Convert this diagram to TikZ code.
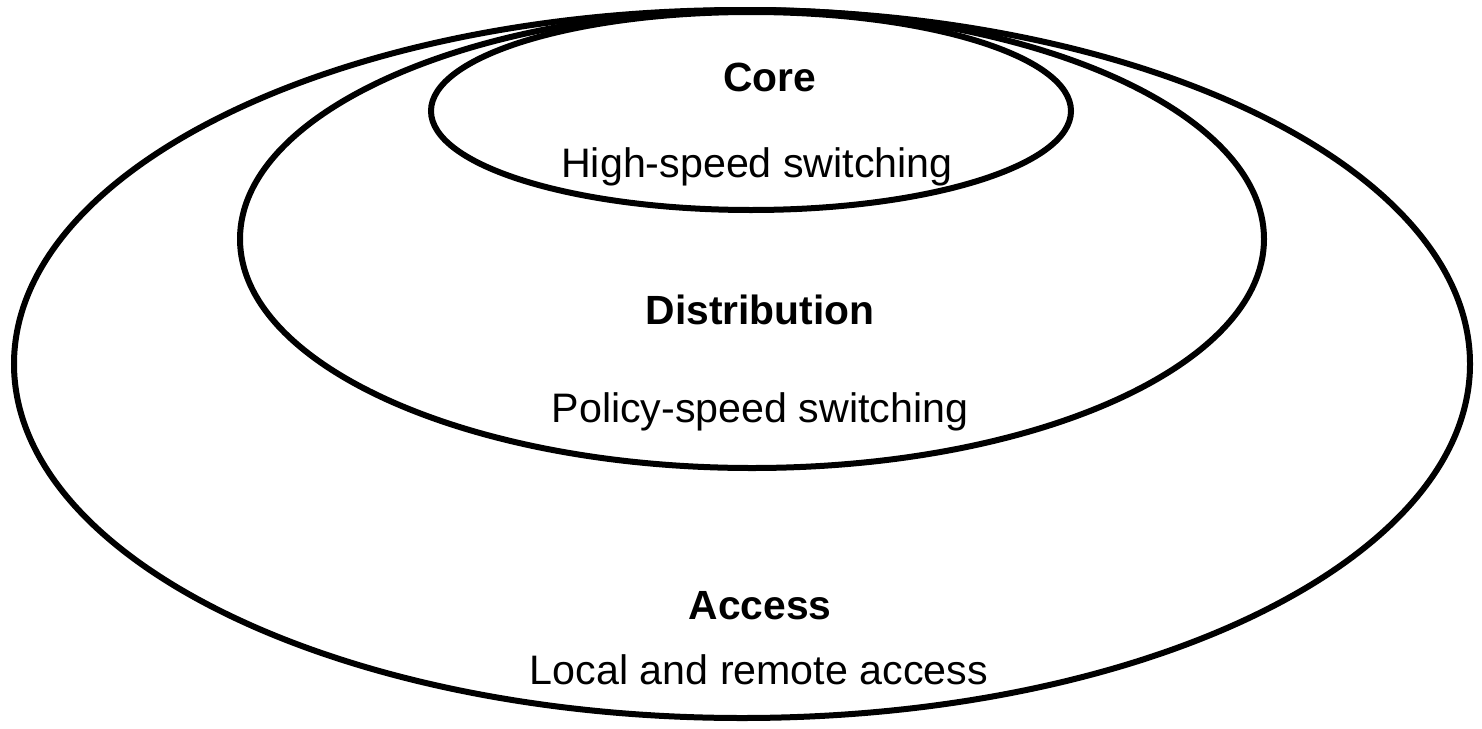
\documentclass[tikz,border=0pt]{standalone}
\usepackage{fontspec}
\setmainfont{Liberation Sans}
\usepackage{tikz}
\usetikzlibrary{shapes.geometric}

\begin{document}
\begin{tikzpicture}[x=0.5pt,y=-0.5pt]
  \tikzstyle{ring}=[ellipse,draw,line width=3pt,inner sep=0pt]
  \tikzstyle{title}=[font=\fontsize{20.4}{24}\selectfont\bfseries]
  \tikzstyle{role}=[font=\fontsize{20.6}{24}\selectfont]
  \useasboundingbox (0,0) rectangle (1482,728);
  \node(access) at (742,364)[ring,minimum width=728pt,minimum height=354pt]{};
  \node(dist) at (752,239)[ring,minimum width=512pt,minimum height=229pt]{};
  \node(core) at (751,111)[ring,minimum width=320pt,minimum height=99pt]{};
  \node(core-t) at (770,77)[title]{Core};
  \node(core-r) at (757,167)[role]{High-speed switching};
  \node(dist-t) at (760,310)[title]{Distribution};
  \node(dist-r) at (760,412)[role]{Policy-speed switching};
  \node(access-t) at (760,606)[title]{Access};
  \node(access-r) at (759,670)[role]{Local and remote access};
\end{tikzpicture}
\end{document}
